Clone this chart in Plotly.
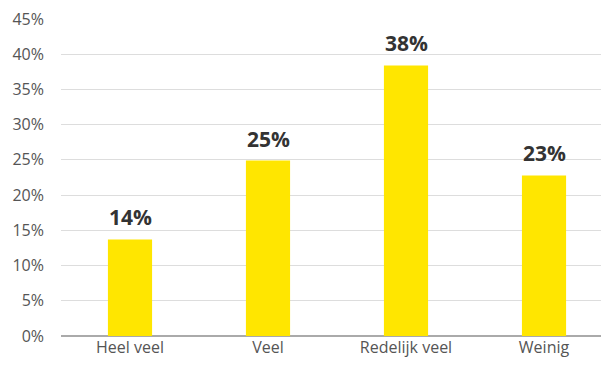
import plotly.graph_objects as go

categories = ["Heel veel", "Veel", "Redelijk veel", "Weinig"]
values = [13.7, 24.9, 38.4, 22.8]
labels = ["14%", "25%", "38%", "23%"]
tick_vals = [0, 5, 10, 15, 20, 25, 30, 35, 40, 45]
tick_text = ["0%", "5%", "10%", "15%", "20%", "25%", "30%", "35%", "40%", "45%"]

fig = go.Figure(go.Bar(
    x=categories, y=values, width=0.32,
    marker=dict(color="#FFE600", line=dict(width=0)),
))

for c, v, t in zip(categories, values, labels):
    fig.add_annotation(x=c, y=v, text="<b>" + t + "</b>", showarrow=False,
                       yanchor="bottom", yshift=6,
                       font=dict(family="Open Sans", size=21, color="#333333"))

fig.update_layout(
    width=601, height=365,
    margin=dict(l=61, r=0, t=19, b=29),
    paper_bgcolor="white", plot_bgcolor="white",
    showlegend=False,
    font=dict(family="Open Sans", color="#555555", size=16),
    xaxis=dict(range=[-0.5, 3.413], showline=False, ticks="",
               tickfont=dict(size=16, color="#555555")),
    yaxis=dict(range=[0, 45], tickvals=tick_vals, ticktext=tick_text,
               showgrid=True, gridcolor="#dddddd", gridwidth=1,
               zeroline=True, zerolinecolor="#aaaaaa", zerolinewidth=2,
               ticks="", ticklabelstandoff=16,
               tickfont=dict(size=16, color="#555555")),
)

fig.write_html("out.html")
